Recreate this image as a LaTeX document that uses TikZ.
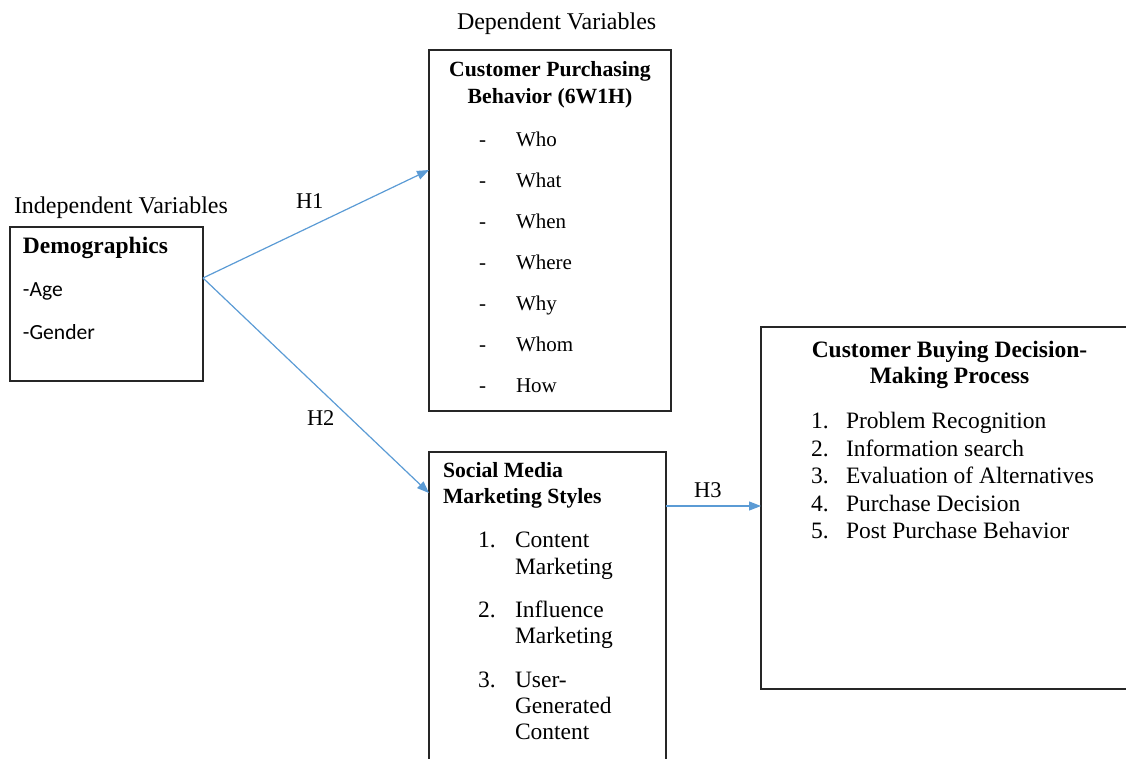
\documentclass[tikz,border=0pt]{standalone}
\usepackage{fontspec}
\setmainfont{Liberation Serif}
\newfontfamily\calibrifont{Carlito}
\usetikzlibrary{arrows.meta,calc}
\definecolor{arrblue}{HTML}{5B9BD5}
\tikzset{
  box/.style={draw=black!85, line width=1.3pt, inner sep=0pt, outer sep=0pt, rectangle},
  arr/.style={draw=arrblue, line width=1.2pt, -{Triangle[length=12pt,width=9pt]}},
  txt/.style={inner sep=0pt, outer sep=0pt, anchor=base west, font=\fontsize{23.5}{27}\selectfont},
  smalltxt/.style={txt, font=\fontsize{21}{25}\selectfont},
  ttl/.style={inner sep=0pt, outer sep=0pt, anchor=base west, font=\fontsize{21.7}{26}\selectfont\bfseries},
  ttlc/.style={ttl, anchor=base},
  lbl/.style={inner sep=0pt, outer sep=0pt, anchor=base west, font=\fontsize{22.5}{26}\selectfont},
  sans/.style={inner sep=0pt, outer sep=0pt, anchor=base west, font=\fontsize{21.6}{26}\calibrifont}
}
\begin{document}
\begin{tikzpicture}[x=1pt,y=-1pt]
\useasboundingbox (0,0) rectangle (1126,758);
% boxes
\node[box, minimum width=193pt, minimum height=154pt] (demo) at (106.5,304) {};
\node[box, minimum width=242pt, minimum height=361pt] (cpb) at (550,230.5) {};
\node[box, minimum width=237pt, minimum height=328pt] (smm) at (547.5,616) {};
\node[box, minimum width=379pt, minimum height=362pt] (cbd) at (950.5,508) {};
% header labels
\node[lbl, font=\fontsize{24}{28}\selectfont] (dep) at (457,29) {Dependent Variables};
\node[lbl, font=\fontsize{24}{28}\selectfont] (indep) at (14,213) {Independent Variables};
% demographics
\node[ttl, font=\fontsize{23.5}{27}\selectfont\bfseries] (demot) at (23,253) {Demographics};
\node[sans] (age) at (23,296) {-Age};
\node[sans] (gender) at (23,339) {-Gender};
% customer purchasing behavior
\node[ttlc] (cpbt1) at (550,76) {Customer Purchasing};
\node[ttlc] (cpbt2) at (550,103) {Behavior (6W1H)};
\foreach \w/\yy [count=\i] in {Who/146,What/187,When/228,Where/269,Why/310,Whom/351,How/392}{
  \node[smalltxt] (cpbd\i) at (479,\yy) {-};
  \node[smalltxt] (cpbw\i) at (516,\yy) {\w};
}
% social media marketing styles
\node[ttl] (smmt1) at (443,477) {Social Media};
\node[ttl] (smmt2) at (443,503) {Marketing Styles};
\node[txt] (smmn1) at (478,547) {1.};
\node[txt] (smmi1a) at (515,547) {Content};
\node[txt] (smmi1b) at (515,574) {Marketing};
\node[txt] (smmn2) at (478,617) {2.};
\node[txt] (smmi2a) at (515,617) {Influence};
\node[txt] (smmi2b) at (515,643) {Marketing};
\node[txt] (smmn3) at (478,687) {3.};
\node[txt] (smmi3a) at (515,687) {User-};
\node[txt] (smmi3b) at (515,713) {Generated};
\node[txt] (smmi3c) at (515,739) {Content};
% customer buying decision-making process
\node[ttlc, font=\fontsize{23.5}{27}\selectfont\bfseries] (cbdt1) at (949.5,357) {Customer Buying Decision-};
\node[ttlc, font=\fontsize{23.5}{27}\selectfont\bfseries] (cbdt2) at (949.5,383) {Making Process};
\foreach \w/\yy [count=\i] in {Problem Recognition/428,Information search/456,Evaluation of Alternatives/483,Purchase Decision/511,Post Purchase Behavior/538}{
  \node[txt] (cbdn\i) at (811,\yy) {\i.};
  \node[txt] (cbdi\i) at (846,\yy) {\w};
}
% connectors
\draw[arr] ($(demo.north east)+(0,51)$) -- ($(cpb.north west)+(0,120)$);
\draw[arr] ($(demo.north east)+(0,51)$) -- ($(smm.north west)+(0,41)$);
\draw[arr] ($(smm.north east)+(0,54)$) -- ($(cbd.north west)+(0,179)$);
% connector labels
\node[lbl] (h1) at (296,208) {H1};
\node[lbl] (h2) at (307,425) {H2};
\node[lbl] (h3) at (694,497) {H3};
\end{tikzpicture}
\end{document}
